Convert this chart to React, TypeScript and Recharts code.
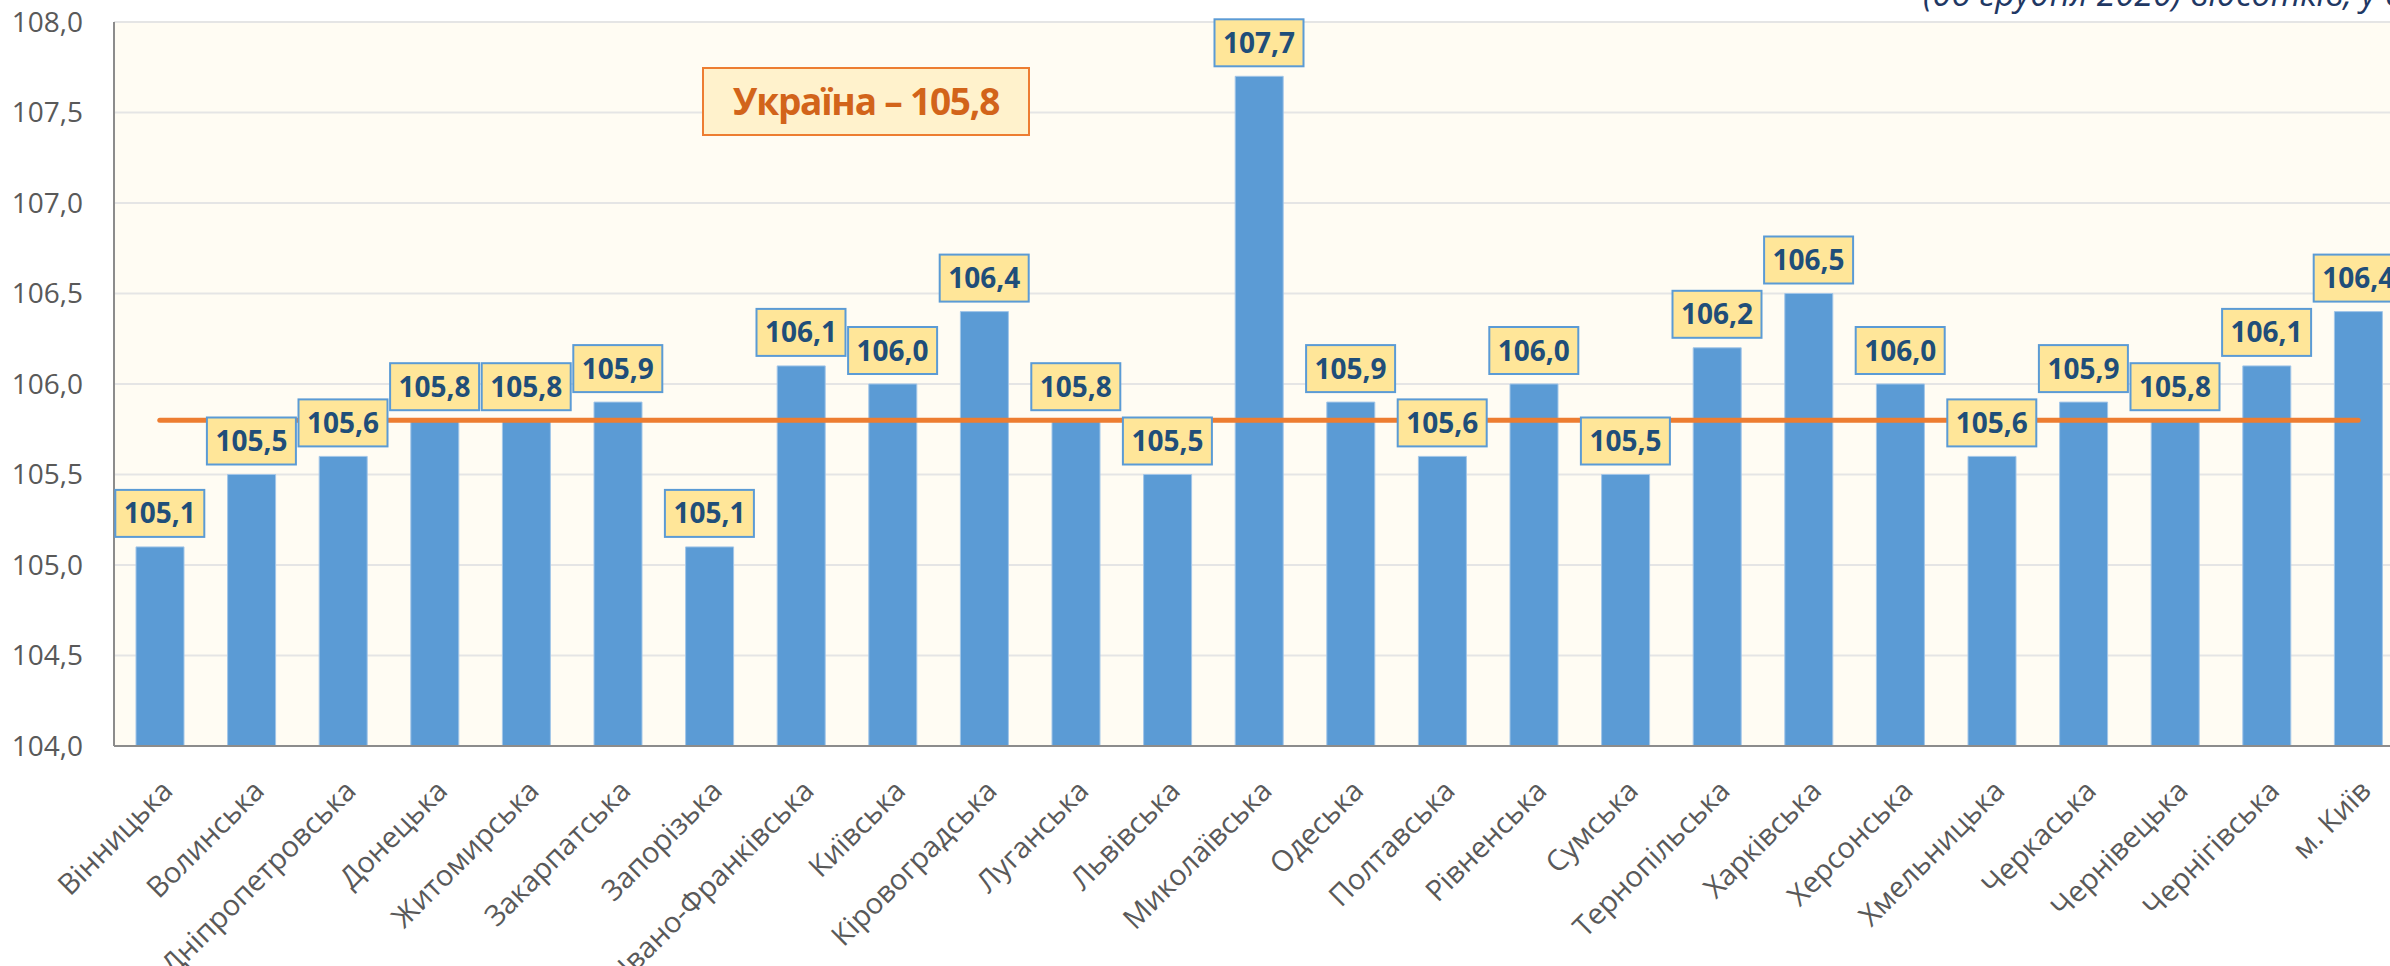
import { ComposedChart, Bar, Line, XAxis, YAxis, CartesianGrid, LabelList } from 'recharts'

const regions = [
  'Вінницька', 'Волинська', 'Дніпропетровська', 'Донецька', 'Житомирська',
  'Закарпатська', 'Запорізька', 'Івано-Франківська', 'Київська', 'Кіровоградська',
  'Луганська', 'Львівська', 'Миколаївська', 'Одеська', 'Полтавська',
  'Рівненська', 'Сумська', 'Тернопільська', 'Харківська', 'Херсонська',
  'Хмельницька', 'Черкаська', 'Чернівецька', 'Чернігівська', 'м. Київ',
]

const values = [
  105.1, 105.5, 105.6, 105.8, 105.8,
  105.9, 105.1, 106.1, 106.0, 106.4,
  105.8, 105.5, 107.7, 105.9, 105.6,
  106.0, 105.5, 106.2, 106.5, 106.0,
  105.6, 105.9, 105.8, 106.1, 106.4,
]

const ukraineAvg = 105.8
const yTicks = [104, 104.5, 105, 105.5, 106, 106.5, 107, 107.5, 108]

const data = regions.map((name, i) => ({ name, value: values[i], avg: ukraineAvg }))

const FONT = '"Open Sans", sans-serif'

function fmt(v: number): string {
  return v.toFixed(1).replace('.', ',')
}

function RegionTick(props: any) {
  const { x, y, payload } = props
  return (
    <g transform={`translate(${x},${y + 32})`}>
      <text
        x={0}
        y={0}
        dy="0.71em"
        transform="rotate(-45)"
        textAnchor="end"
        fill="#595959"
        fontSize={29}
        fontFamily={FONT}
      >
        {payload.value}
      </text>
    </g>
  )
}

function ValueBox(props: any) {
  const { x, y, value } = props
  const w = 89
  const h = 47
  const bottom = y - 10
  return (
    <g>
      <rect x={x - w / 2} y={bottom - h} width={w} height={h} fill="#FFE699" stroke="#5B9BD5" strokeWidth={2} />
      <text
        x={x}
        y={bottom - h / 2 + 10}
        textAnchor="middle"
        fill="#1F4E79"
        fontSize={28}
        fontWeight={700}
        fontFamily={FONT}
      >
        {fmt(value)}
      </text>
    </g>
  )
}

export default function App() {
  return (
    <div
      style={{
        position: 'fixed',
        left: 0,
        top: 0,
        width: 2390,
        height: 966,
        overflow: 'hidden',
        background: '#fff',
      }}
    >
      <ComposedChart
        width={2420}
        height={966}
        data={data}
        margin={{ top: 22, right: 16, left: 0, bottom: 0 }}
        barSize={48}
      >
        <CartesianGrid vertical={false} fill="#FFFCF3" stroke="#E5E5E5" strokeWidth={2} />
        <XAxis
          dataKey="name"
          interval={0}
          height={220}
          tickLine={false}
          tickSize={0}
          tickMargin={0}
          axisLine={{ stroke: '#8C8C8C', strokeWidth: 2 }}
          tick={<RegionTick />}
        />
        <YAxis
          domain={[104, 108]}
          ticks={yTicks}
          width={114}
          tickFormatter={fmt}
          tickLine={false}
          tickSize={0}
          tickMargin={31}
          axisLine={{ stroke: '#8C8C8C', strokeWidth: 2 }}
          tick={{ fontSize: 28, fill: '#595959', fontFamily: FONT }}
        />
        <Bar dataKey="value" fill="#5B9BD5" stroke="#A3C6E8" strokeWidth={1} isAnimationActive={false} />
        <Line
          dataKey="avg"
          type="linear"
          stroke="#ED7D31"
          strokeWidth={5}
          strokeLinecap="round"
          dot={false}
          activeDot={false}
          isAnimationActive={false}
        />
        <Line
          dataKey="value"
          type="linear"
          stroke="none"
          dot={false}
          activeDot={false}
          isAnimationActive={false}
        >
          <LabelList dataKey="value" content={<ValueBox />} />
        </Line>
      </ComposedChart>
      <svg
        width={2390}
        height={966}
        style={{ position: 'absolute', left: 0, top: 0, pointerEvents: 'none' }}
      >
        <text x={1923} y={6} fill="#1F3864" fontSize={34} fontStyle="italic" fontFamily={FONT}>
          (до грудня 2020) відсотків, у середньому
        </text>
        <rect x={703} y={68} width={326} height={67} fill="#FFF2CC" stroke="#ED7D31" strokeWidth={2} />
        <text
          x={866}
          y={115}
          textAnchor="middle"
          fill="#D2641A"
          fontSize={37}
          fontWeight={700}
          letterSpacing={-1.2}
          fontFamily={FONT}
        >
          Україна – {fmt(ukraineAvg)}
        </text>
      </svg>
    </div>
  )
}
